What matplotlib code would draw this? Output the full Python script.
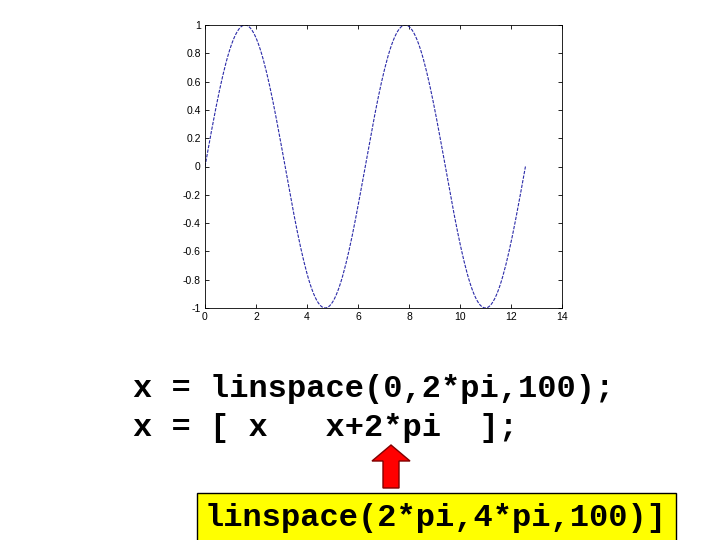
import numpy as np
import matplotlib
matplotlib.use("Agg")
import matplotlib.pyplot as plt
from matplotlib.patches import FancyArrow, Rectangle

# Data (as stated in the slide's code)
x_start = 0.0
x_end = 2 * np.pi
n_points = 100
x1 = np.linspace(x_start, x_end, n_points)
x = np.concatenate([x1, x1 + 2 * np.pi])
y = np.sin(x)

xticks = [0, 2, 4, 6, 8, 10, 12, 14]
yticks = [-1, -0.8, -0.6, -0.4, -0.2, 0, 0.2, 0.4, 0.6, 0.8, 1]
ytick_labels = ["-1", "-0.8", "-0.6", "-0.4", "-0.2", "0", "0.2", "0.4", "0.6", "0.8", "1"]

line1 = "x = linspace(0,2*pi,100);"
line2 = "x = [ x   x+2*pi  ];"
box_text = "linspace(2*pi,4*pi,100)]"

W, H = 720, 540
fig = plt.figure(figsize=(7.2, 5.4), dpi=100)

ax = fig.add_axes([205 / W, 1 - 308 / H, (562 - 205) / W, (308 - 25) / H])
ax.plot(x, y, color="#2a2aa8", lw=0.8, ls=(0, (3, 1.2)))
ax.set_xlim(0, 14)
ax.set_ylim(-1, 1)
ax.set_xticks(xticks)
ax.set_yticks(yticks)
ax.set_yticklabels(ytick_labels)
ax.tick_params(direction="in", top=True, right=True, length=3, width=0.6,
               labelsize=7.5, pad=3)
for lab in ax.get_xticklabels() + ax.get_yticklabels():
    lab.set_family("Liberation Sans")
for s in ax.spines.values():
    s.set_linewidth(0.6)

mono = dict(family="Liberation Mono", weight="bold", fontsize=23, color="black")
fig.text(133 / W, 1 - 389 / H, line1, ha="left", va="center", **mono)
fig.text(133 / W, 1 - 428 / H, line2, ha="left", va="center", **mono)

# yellow box
fig.patches.append(Rectangle((197 / W, 1 - 541 / H), (676 - 197) / W, (541 - 493) / H,
                             transform=fig.transFigure, facecolor="#ffff00",
                             edgecolor="black", lw=1.0))
fig.text(205 / W, 1 - 518 / H, box_text, ha="left", va="center", **mono)

# red arrow (figure pixel coords)
arrow = FancyArrow(391 / W, 1 - 488 / H, 0, (488 - 445) / H,
                   width=16 / W, head_width=38 / W, head_length=16 / H,
                   length_includes_head=True, transform=fig.transFigure,
                   facecolor="#ff0000", edgecolor="#800000", lw=1.0)
fig.patches.append(arrow)

fig.savefig("out.png", dpi=100)
